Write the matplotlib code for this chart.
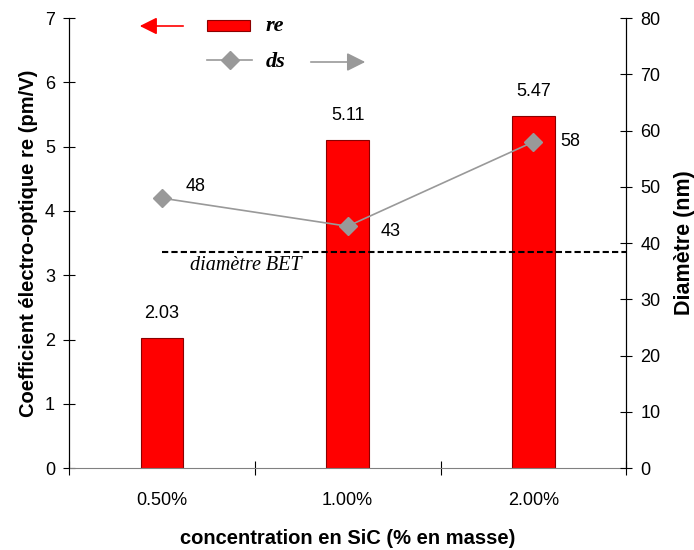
import numpy as np
import matplotlib.pyplot as plt
from matplotlib.patches import FancyArrowPatch

# --- DATOS ---
categories = ['0.50%', '1.00%', '2.00%']
re_values = [2.03, 5.11, 5.47]
ds_values = [48, 43, 58]
bet_diameter = 38.4

plt.rcParams['font.family'] = ['Liberation Sans', 'DejaVu Sans']

fig = plt.figure(figsize=(6.94, 5.5), dpi=100)
ax = fig.add_axes([0.0994, 0.149, 0.803, 0.818])
ax2 = ax.twinx()

x = np.arange(len(categories))

# barres re
ax.bar(x, re_values, width=0.23, color='#ff0000', edgecolor='#8b0000', linewidth=0.8, zorder=2)
for xi, v in zip(x, re_values):
    ax.text(xi, v + 0.25, f"{v:.2f}", ha='center', va='bottom', fontsize=13)

ax.set_xlim(-0.5, 2.5)
ax.set_ylim(0, 7)
ax.set_yticks(range(0, 8))
ax.set_xticks([-0.5, 0.5, 1.5, 2.5])
ax.set_xticklabels([])
ax.set_xticks(x, minor=True)
ax.set_xticklabels(categories, minor=True)
ax.tick_params(axis='x', which='minor', length=0, pad=17, labelsize=13)
ax.tick_params(axis='x', which='major', direction='inout', length=10)
ax.tick_params(axis='y', direction='inout', length=8, labelsize=13, pad=6)
ax.set_xlabel("concentration en SiC (% en masse)", fontsize=14.5, fontweight='bold', labelpad=15)
ax.set_ylabel("Coefficient électro-optique re (pm/V)", fontsize=14.5, fontweight='bold', labelpad=5)
ax.spines['top'].set_visible(False)
ax.spines['bottom'].set_color('#808080')

# ligne ds
ax2.plot(x, ds_values, color='#999999', linewidth=1.2, marker='D', markersize=9,
         markerfacecolor='#999999', markeredgecolor='#999999', zorder=3)
offsets = [(0.13, 2.0), (0.18, -1.0), (0.145, 0)]
for xi, v, (dx, dy) in zip(x, ds_values, offsets):
    ax2.text(xi + dx, v + dy, f"{v}", ha='left', va='center', fontsize=13)

# diamètre BET
ax2.plot([0, 2.5], [bet_diameter, bet_diameter], color='black', linestyle=(0, (3, 1.5)), linewidth=1.5)
ax2.text(0.45, bet_diameter - 2.3, "diamètre BET", ha='center', va='center',
         fontsize=14.5, style='italic', family=['Liberation Serif'])

ax2.set_ylim(0, 80)
ax2.set_yticks(range(0, 90, 10))
ax2.tick_params(axis='y', direction='inout', length=8, labelsize=13, pad=6)
ax2.set_ylabel("Diamètre (nm)", fontsize=15.5, fontweight='bold', labelpad=10)
ax2.spines['top'].set_visible(False)
ax2.spines['bottom'].set_visible(False)

# légende manuelle
fig.patches.append(FancyArrowPatch((186 / 694, 1 - 26 / 550), (137 / 694, 1 - 26 / 550),
                                   transform=fig.transFigure, arrowstyle='-|>', mutation_scale=26,
                                   color='#ff0000', linewidth=1.2))
fig.patches.append(plt.Rectangle((207 / 694, 1 - 31 / 550), 43 / 694, 11 / 550,
                                 transform=fig.transFigure, facecolor='#ff0000', edgecolor='#8b0000',
                                 linewidth=0.8))
fig.text(266 / 694, 1 - 26 / 550, "re", fontsize=16, fontweight='bold', style='italic',
         family=['Liberation Serif'], va='center')
fig.lines.append(plt.Line2D([207 / 694, 252 / 694], [1 - 60 / 550, 1 - 60 / 550],
                            transform=fig.transFigure, color='#999999', linewidth=1.2))
fig.lines.append(plt.Line2D([229.5 / 694], [1 - 60 / 550], transform=fig.transFigure,
                            color='#999999', marker='D', markersize=9, linestyle='none'))
fig.text(266 / 694, 1 - 62 / 550, "ds", fontsize=16, fontweight='bold', style='italic',
         family=['Liberation Serif'], va='center')
fig.patches.append(FancyArrowPatch((308 / 694, 1 - 62 / 550), (368 / 694, 1 - 62 / 550),
                                   transform=fig.transFigure, arrowstyle='-|>', mutation_scale=28,
                                   color='#999999', linewidth=1.2))

fig.savefig('out.png', dpi=100)
